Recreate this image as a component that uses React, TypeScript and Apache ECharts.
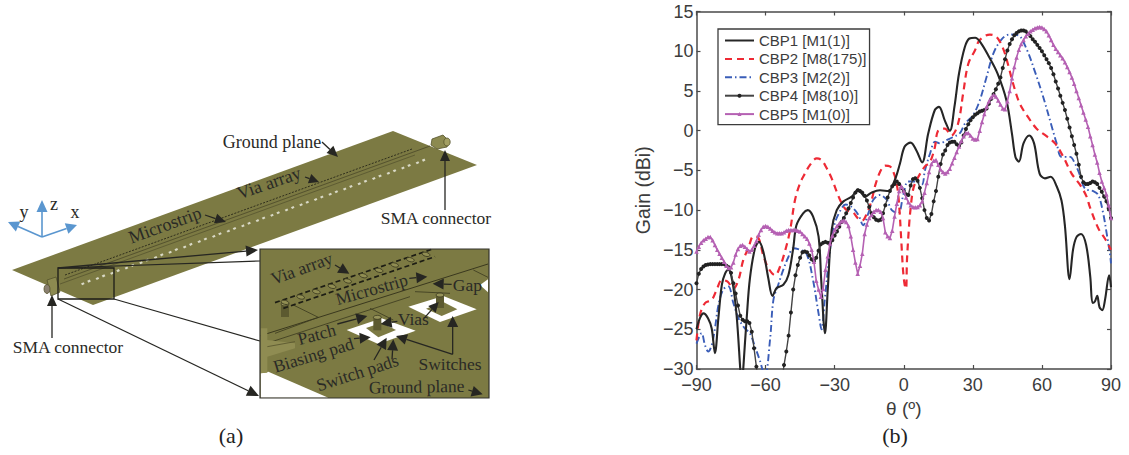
import React, { useEffect, useRef } from "react";
import * as echarts from "echarts";

const seriesNames = ["CBP1 [M1(1)]", "CBP2 [M8(175)]", "CBP3 [M2(2)]", "CBP4 [M8(10)]", "CBP5 [M1(0)]"];
const xTicks = [-90, -60, -30, 0, 30, 60, 90];
const yLabelMin = -30;
const yLabelMax = 15;

const cbp1: number[][] = [
  [-90, -25], [-88.5, -23.6], [-87, -23], [-85, -23.6], [-83.4, -24.9], [-82, -28], [-80.5, -23.6], [-79, -19.4],
  [-77.6, -18], [-76.2, -17.5], [-74.4, -19], [-72.6, -23.2], [-71, -30], [-70.3, -33], [-69.7, -30], [-68.2, -23.6],
  [-66.8, -18.6], [-64.6, -14.8], [-62.9, -14], [-61, -15.2], [-58.8, -18.6], [-57, -20.8], [-55.2, -19.8], [-52.3, -19.4],
  [-50.1, -18.2], [-48, -14.8], [-46.6, -11.9], [-43.7, -10.4], [-41.7, -10], [-39.4, -10.8], [-37, -13.3], [-35.8, -19],
  [-34.2, -25.5], [-33, -20], [-31.3, -12.5], [-29.1, -10], [-26.2, -8.9], [-22.6, -8.3], [-19.7, -7.4], [-16.8, -8.3],
  [-14, -7.8], [-10.3, -7.5], [-6.7, -7.6], [-4, -6.3], [-1.7, -4.2], [0.4, -2], [3, -1.5], [5.5, -2.5], [8, -4],
  [10.6, -0.4], [13.5, 2.6], [15.3, 3], [17.8, 1.3], [20, 0], [22, 3], [24, 7.2], [26.5, 10.5], [28.5, 11.6], [31, 11.7],
  [33.6, 11], [37, 9.3], [40.7, 7.2], [44.6, 3.8], [47, -0.4], [48.5, -3.3], [50, -3.9], [52, -1.6], [54.5, -0.6],
  [56.6, -1.6], [59, -5.4], [61.3, -6], [63.8, -5.8], [66.4, -7], [68.5, -8.8], [70, -12], [72, -18.7], [73.5, -15],
  [75, -13.4], [77, -13], [79.2, -14.4], [81, -18.4], [82, -21.7], [83, -21.5], [84, -20.8], [85, -22.2], [86.2, -22.6],
  [87.4, -21.3], [89.2, -18.2], [90, -19.7],
];

const cbp2: number[][] = [
  [-90, -26.4], [-88.5, -23.2], [-86.3, -21.7], [-83.4, -21.3], [-81.2, -20], [-79, -18.8], [-76.5, -19], [-74, -19.9],
  [-71.8, -18.8], [-69.7, -16.3], [-67.5, -14.8], [-65.3, -13.3], [-63.1, -13.5], [-61, -15.7], [-58.8, -17.3], [-55.9, -18.2],
  [-53.7, -17.1], [-51.6, -15.2], [-49.4, -12.6], [-47.2, -8.7], [-45, -6.6], [-42.9, -5.4], [-40.7, -4.3], [-37.8, -3.5],
  [-35.7, -3.7], [-33.5, -4.7], [-31.3, -6], [-29.1, -7.7], [-27, -9.1], [-24.8, -10], [-22, -10.3], [-20, -11], [-18, -11.3],
  [-16, -10.4], [-13.9, -8.7], [-12.5, -7], [-10.3, -5.2], [-8.1, -4.4], [-6, -4.5], [-4.5, -5.2], [-3.1, -6.6], [-2.1, -9],
  [-1, -14.2], [-0.3, -17.6], [0.4, -19.4], [1, -19.9], [1.4, -16.3], [2.3, -12], [2.9, -10], [4.15, -7.3], [6, -6], [9.2, -4.5],
  [11.3, -4], [13.5, -2.1], [14.9, 0], [17.8, 0.25], [20.7, -0.6], [23.6, 0.9], [25.8, 4.7], [28, 8.4], [30.9, 10.1], [33, 11.4],
  [37.4, 12.1], [40.3, 11.8], [43.2, 10.3], [45.4, 8.2], [47.5, 5.9], [50.4, 3.4], [54, 1.7], [57.7, 0.25], [62, -0.7],
  [65.7, -1.6], [69.3, -3.3], [72.9, -5.4], [76.5, -6.8], [79.4, -8.3], [80.8, -9.6], [84.5, -12.3], [87.4, -13.6], [90, -15],
];

const cbp3: number[][] = [
  [-90, -26.8], [-87.8, -25.5], [-86.3, -27], [-84.9, -27.8], [-83.4, -27], [-82, -24.9], [-80.5, -22], [-78.4, -20],
  [-76.2, -19.6], [-74, -21.7], [-71.8, -23.6], [-69, -24.9], [-66.8, -25.5], [-64.6, -27.2], [-62.4, -29], [-60.3, -31],
  [-58, -26.1], [-56.6, -21.3], [-54.5, -19.4], [-52.3, -17.5], [-50.1, -15.9], [-48, -14.8], [-45, -15], [-42.2, -15.5],
  [-39.4, -18.8], [-37, -23], [-35.7, -25], [-34.3, -21.3], [-32, -15], [-30.3, -12], [-27.8, -10.2], [-25.2, -9.3], [-22.6, -9.6],
  [-19.7, -10.6], [-17.6, -11.9], [-15.4, -10.4], [-13.2, -8.7], [-10.3, -8.1], [-7.4, -8.7], [-5.2, -10], [-2.4, -10.4],
  [-0.2, -8.1], [1.9, -6.4], [4.9, -6.4], [7.8, -6.8], [9.2, -5], [11.4, -2.9], [13.6, -1.4], [15.7, -1.6], [18.6, -1.2],
  [21.5, -0.8], [24.4, -0.3], [26.6, 0.9], [30, 1.9], [33, 3.8], [36, 6.8], [38.9, 9.7], [42.5, 11.5], [46, 12.1], [49.7, 12],
  [53.3, 10.3], [57, 7.4], [60.6, 4.2], [64.2, 0.6], [66.4, -1.6], [68.5, -3.3], [72.2, -3.3], [74.3, -4.1], [76.5, -5.6],
  [78.7, -7.3], [82.3, -7.6], [84.5, -8.1], [86.6, -10.4], [88.1, -12.9], [89.5, -15.4], [90, -16.7],
];

// CBP4 and CBP5 gains read at each degree from -90 to 90
const cbp4Gain: number[] = [
  -19.2, -18, -17.4, -17.1, -16.9, -16.85, -16.8, -16.8, -16.8, -16.8, -16.8, -16.8, -16.8, -17, -17.2, -17.9, -19.2, -20.5, -22, -23.3,
  -23.8, -24, -24, -24.2, -25.3, -27.4, -29.7, -32, -34, -36, -38, -39, -40, -39, -38, -36, -34, -31.8, -29.5, -27.8,
  -25.8, -22.9, -20, -18.2, -16.9, -16, -15.3, -15.2, -15.3, -15.7, -16.2, -16.4, -16, -15.1, -14.3, -14.1, -14, -14.1, -14.2, -13.8,
  -13.2, -12.7, -12.1, -11.5, -11, -10.4, -9.8, -9.1, -8.4, -7.8, -7.5, -7.6, -7.8, -8.2, -8.8, -9.6, -10.4, -10.9, -11.2, -11.3,
  -11.2, -10.4, -9.4, -8.4, -7.6, -7, -6.7, -6.4, -6.7, -7.2, -7.6, -8, -8.1, -6.9, -6.1, -6, -6.3, -7.2, -8.5, -10,
  -11, -11.3, -10.5, -8.9, -7.6, -5.8, -4.2, -3, -2.5, -1.8, -1.5, -1.4, -1.4, -1.7, -1.9, -1.5, -0.6, 0.2, 0.8, 1.3,
  1.7, 2, 2.2, 2.4, 2.5, 2.6, 2.8, 3.4, 4, 4.6, 5.2, 5.9, 6.7, 7.9, 9, 10.1, 10.9, 11.5, 12, 12.3,
  12.5, 12.6, 12.6, 12.5, 12.2, 11.9, 11.5, 11.2, 10.8, 10.4, 10, 9.5, 9, 8.5, 7.9, 7.1, 6.2, 5.3, 4.4, 3.5,
  2.6, 1.5, 0.4, -0.7, -1.8, -2.9, -4.3, -5.8, -6.5, -6.7, -6.7, -6.6, -6.4, -6.5, -6.7, -7.2, -7.7, -8.3, -8.9, -9.8,
  -11,
];

const cbp5Gain: number[] = [
  -15.2, -14.6, -14.1, -13.8, -13.6, -13.4, -13.4, -13.8, -14.4, -15, -15.5, -16, -16.5, -17, -17.3, -17.2, -16.6, -15.6, -14.9, -14.5,
  -14.4, -14.6, -14.9, -15.2, -15, -14.5, -13.9, -13.1, -12.5, -12.1, -12, -12.1, -12.3, -12.6, -12.8, -12.9, -12.9, -12.9, -12.8, -12.6,
  -12.5, -12.5, -12.5, -12.5, -12.6, -12.7, -13, -13.3, -13.6, -14.2, -15, -16.5, -18.9, -20, -20.9, -19.9, -17.5, -15.8, -14.2, -13.2,
  -12.5, -12, -11.7, -11.4, -11.3, -11.5, -12, -13.3, -15, -16.6, -18, -17, -15.5, -13, -11.8, -11, -10.6, -10.2, -10, -10,
  -10.2, -11, -12.8, -13.3, -13.5, -12.6, -10.8, -9.2, -7.6, -7, -7.6, -8.4, -9, -9.4, -9.6, -9.65, -9.6, -9.4, -8.9, -7.8,
  -6.6, -5.2, -4.2, -3.8, -3.7, -4.3, -4.9, -5.2, -5.4, -5.2, -4.8, -4.1, -3.4, -2.7, -2, -1.3, -0.7, -0.3, -0.3, -0.6,
  -1, -1.1, -1.05, 0, 1.1, 2.1, 3, 3.7, 4.2, 4.5, 4.3, 3.8, 3.3, 2.8, 2.7, 3.7, 5, 6.6, 8, 9.2,
  10.2, 10.9, 11.4, 11.9, 12.2, 12.5, 12.7, 12.9, 13, 13.05, 13, 12.8, 12.5, 12, 11.4, 10.8, 10.3, 9.9, 9.5, 9.1,
  8.6, 8, 7.4, 6.7, 5.9, 5, 4.1, 3.2, 2.3, 1.4, 0.5, -0.7, -1.8, -3, -4, -5.3, -6.4, -7.2, -8, -9.4,
  -11,
];

const OLIVE = "#7c7a43";
const INK = "#262622";
const SERIF = "'Liberation Serif', serif";
const SANS = "'Liberation Sans', Arial, sans-serif";
const deg = (d: number) => (d * Math.PI) / 180;

// inset drawing coordinates are measured on a 3x view with origin (250,240)
const ix = (x: number) => 250 + x / 3;
const iy = (y: number) => 240 + y / 3;
const ip = (pts: number[][]) => pts.map(([x, y]) => [ix(x), iy(y)]);

const line = (x1: number, y1: number, x2: number, y2: number, w = 1.2, color = INK, dash?: number[]) => ({
  type: "line",
  silent: true,
  shape: { x1, y1, x2, y2 },
  style: { stroke: color, lineWidth: w, lineDash: dash },
});

const poly = (points: number[][], fill: string, stroke?: string, lw = 0) => ({
  type: "polygon",
  silent: true,
  shape: { points },
  style: { fill, stroke, lineWidth: lw },
});

const arrow = (x1: number, y1: number, x2: number, y2: number, len = 11, half = 6, color = INK, w = 1.3) => {
  const a = Math.atan2(y2 - y1, x2 - x1);
  const bx = x2 - len * Math.cos(a);
  const by = y2 - len * Math.sin(a);
  const nx = -Math.sin(a) * half;
  const ny = Math.cos(a) * half;
  return [
    line(x1, y1, bx, by, w, color),
    poly([[x2, y2], [bx + nx, by + ny], [bx - nx, by - ny]], color),
  ];
};

const label = (text: string, x: number, y: number, rot = 0, size = 17.5, family = SERIF, color = "#2a2a26") => ({
  type: "text",
  silent: true,
  x,
  y,
  rotation: deg(rot),
  style: { text, x: 0, y: 0, fill: color, font: `${size}px ${family}`, align: "center", verticalAlign: "middle" },
});

const ell = (x: number, y: number, rx: number, ry: number, fill: string, stroke?: string, rot = 0) => ({
  type: "ellipse",
  silent: true,
  x,
  y,
  rotation: deg(rot),
  shape: { cx: 0, cy: 0, rx, ry },
  style: { fill, stroke, lineWidth: 0.8 },
});

const viaCylinder = (zx: number, zy: number) => [
  {
    type: "rect",
    silent: true,
    shape: { x: ix(zx) - 4, y: iy(zy), width: 8, height: 13 },
    style: { fill: "#5c5a30" },
  },
  ell(ix(zx), iy(zy), 4, 2, "#96935a", "#3b3a20"),
];

function buildDrawing(): any[] {
  const els: any[] = [];
  // board
  els.push(poly([[12, 270], [393, 131], [477, 165], [93, 305]], OLIVE));
  // slots along the board
  for (let i = 0; i < 24; i++) {
    const cx = 86 + i * 14.55;
    const cy = 282 - i * 5.26;
    els.push(poly([[cx - 5, cy + 1.5], [cx - 2.4, cy + 0.2], [cx - 1.4, cy + 2], [cx - 3.8, cy + 3.2]], "#d9d9c6"));
    els.push(poly([[cx + 1.2, cy - 1.2], [cx + 3.8, cy - 2.4], [cx + 4.8, cy - 0.6], [cx + 2.4, cy + 0.7]], "#d9d9c6"));
  }
  // microstrip and via rows
  els.push(line(65, 275, 412, 149, 1, "#2f2e1c", [2, 1.4]));
  els.push(line(64, 279, 430, 146, 0.8, "#4a4828"));
  els.push(line(60, 284, 415, 155, 0.6, "#4a4828"));
  // connectors
  els.push(poly([[432, 139], [443, 135], [449, 141], [447, 147], [437, 149], [431, 145]], "#8c8a50", "#55532c", 0.8));
  els.push(ell(447, 142, 3.2, 4, "#a39f63", "#55532c"));
  els.push(poly([[47, 280], [56, 277], [60, 292], [51, 296]], "#8c8a50", "#55532c", 0.8));
  els.push(ell(47, 289, 3, 4.5, "#8a8070", "#55532c"));
  // axes triad
  const blue = "#5a96cf";
  els.push(...arrow(42, 237, 8, 222, 11, 5.5, blue, 1.6));
  els.push(...arrow(42, 237, 42, 200, 12, 5.5, blue, 1.6));
  els.push(...arrow(42, 237, 77, 225, 11, 5.5, blue, 1.6));
  els.push(label("y", 24, 212, 0, 18));
  els.push(label("z", 54, 204, 0, 18));
  els.push(label("x", 75, 212, 0, 18));
  // labels on board
  els.push(label("Ground plane", 272, 142, 0, 18));
  els.push(...arrow(322, 142, 338, 157, 11, 5));
  els.push(label("Via array", 269, 183, 19, 18));
  els.push(...arrow(305, 177, 319, 182, 10, 5));
  els.push(label("Microstrip", 165, 225, 20, 18));
  els.push(...arrow(205, 215, 226, 222, 11, 5));
  els.push(label("SMA connector", 436, 218));
  els.push(...arrow(445, 210, 445, 150, 11, 5));
  els.push(label("SMA connector", 68, 347));
  els.push(...arrow(52, 338, 52, 295, 11, 5));
  // callout
  els.push({
    type: "rect",
    silent: true,
    shape: { x: 58, y: 268, width: 56, height: 31 },
    style: { fill: "none", stroke: "#1c1c18", lineWidth: 1.3 },
  });
  els.push(...arrow(58, 268, 258, 250, 12, 5.5));
  els.push(line(58, 268, 260, 261, 1.2));
  els.push(line(114, 299, 260, 341, 1.2));
  els.push(...arrow(58, 299, 259, 396, 12, 5.5));
  // inset
  els.push({
    type: "rect",
    silent: true,
    shape: { x: 260, y: 249, width: 229, height: 149 },
    style: { fill: OLIVE },
  });
  els.push(poly(ip([[32, 400], [55, 395], [235, 473], [32, 473]]), "#ffffff"));
  els.push(poly(ip([[690, 135], [714, 118], [714, 157]]), "#ffffff"));
  // inset patch outlines
  els.push(line(ix(32), iy(287), ix(714), iy(72), 1, "#3a381e"));
  els.push(line(ix(50), iy(310), ix(480), iy(170), 0.8, "#3a381e"));
  els.push(line(ix(75), iy(280), ix(205), iy(232), 0.8, "#3a381e"));
  els.push(line(ix(130), iy(195), ix(205), iy(232), 0.8, "#3a381e"));
  els.push(line(ix(360), iy(205), ix(430), iy(240), 0.8, "#3a381e"));
  els.push(line(ix(495), iy(155), ix(600), iy(160), 0.8, "#3a381e"));
  els.push(line(ix(670), iy(90), ix(714), iy(112), 0.8, "#3a381e"));
  // inset feed pads
  els.push(poly(ip([[32, 265], [52, 265], [52, 300], [135, 310], [135, 325], [52, 350], [52, 398], [32, 400]]), "#8f8c52"));
  els.push(line(ix(52), iy(320), ix(135), iy(305), 0.8, "#55532c"));
  // white pads
  els.push(poly(ip([[290, 270], [395, 235], [497, 272], [385, 312]]), "#ffffff"));
  els.push(poly(ip([[348, 264], [395, 248], [438, 270], [385, 292]]), OLIVE));
  els.push(poly(ip([[475, 200], [580, 168], [680, 208], [570, 246]]), "#ffffff"));
  els.push(poly(ip([[528, 206], [580, 186], [622, 208], [575, 228]]), OLIVE));
  // inset vias
  els.push(...viaCylinder(105, 192));
  els.push(...viaCylinder(382, 232));
  els.push(...viaCylinder(570, 165));
  // via array
  els.push(line(ix(75), iy(188), ix(545), iy(28), 1.7, "#1d1d14", [5, 3]));
  els.push(line(ix(100), iy(205), ix(555), iy(50), 1.7, "#1d1d14", [5, 3]));
  for (let i = 0; i < 10; i++) {
    els.push(ell(ix(105 + i * 47), iy(187 - i * 16), 4, 2, "#908d52", "#3b3a20", -15));
  }
  // inset labels and arrows
  els.push(label("Via array", ix(155), iy(85), 20));
  els.push(...arrow(ix(255), iy(75), ix(298), iy(101), 11, 5.5));
  els.push(label("Microstrip", ix(365), iy(148), 16));
  els.push(...arrow(ix(478), iy(115), ix(532), iy(110), 11, 5.5));
  els.push(label("Gap", ix(652), iy(135), 0));
  els.push(...arrow(ix(605), iy(133), ix(548), iy(131), 11, 5.5));
  els.push(label("Patch", ix(200), iy(283), 15));
  els.push(...arrow(ix(262), iy(252), ix(352), iy(228), 11, 5.5));
  els.push(label("Vias", ix(490), iy(238), 0));
  els.push(...arrow(ix(442), iy(244), ix(392), iy(252), 11, 5.5));
  els.push(...arrow(ix(522), iy(235), ix(566), iy(186), 10, 5));
  els.push(label("Biasing pad", ix(190), iy(345), 17));
  els.push(...arrow(ix(312), iy(296), ix(362), iy(292), 11, 5.5));
  els.push(label("Switch pads", ix(322), iy(398), 18));
  els.push(...arrow(ix(372), iy(360), ix(410), iy(293), 11, 5.5));
  els.push(...arrow(ix(426), iy(358), ix(430), iy(298), 11, 5.5));
  els.push(label("Switches", ix(600), iy(372), 0));
  els.push(...arrow(ix(608), iy(343), ix(438), iy(288), 11, 5.5));
  els.push(...arrow(ix(608), iy(343), ix(608), iy(228), 11, 5.5));
  els.push(label("Ground plane", ix(500), iy(440), 1));
  els.push(...arrow(ix(655), iy(450), ix(698), iy(463), 11, 5.5));
  // inset frame
  els.push({
    type: "rect",
    silent: true,
    shape: { x: 260, y: 249, width: 229, height: 149 },
    style: { fill: "none", stroke: "#33332c", lineWidth: 1.2 },
  });
  // captions
  els.push(label("(a)", 231, 435, 0, 22, SERIF, "#222"));
  els.push(label("(b)", 895, 435, 0, 22, SERIF, "#222"));
  return els;
}

export default function App() {
  const ref = useRef<HTMLDivElement>(null);
  useEffect(() => {
    if (!ref.current) return;
    document.body.style.margin = "0";
    const chart = echarts.init(ref.current, undefined, { renderer: "svg", width: 1129, height: 455 });
    const axisColor = "#4a4a4a";
    const textColor = "#3c3c3c";
    const hideIcon = { opacity: 0 };
    chart.setOption({
      animation: false,
      backgroundColor: "#ffffff",
      textStyle: { fontFamily: SANS },
      legend: {
        left: 718,
        top: 29,
        orient: "vertical",
        align: "left",
        padding: [4, 3, 3, 6],
        itemWidth: 29,
        itemHeight: 5,
        itemGap: 3.4,
        backgroundColor: "#ffffff",
        borderColor: "#3c3c3c",
        borderWidth: 1.3,
        borderRadius: 0,
        textStyle: { fontFamily: SANS, fontSize: 15, color: textColor, lineHeight: 14 },
        data: [
          { name: seriesNames[0], itemStyle: hideIcon },
          { name: seriesNames[1], itemStyle: hideIcon },
          { name: seriesNames[2], itemStyle: hideIcon },
          { name: seriesNames[3] },
          { name: seriesNames[4] },
        ],
      },
      grid: { left: 696.5, top: 11.5, width: 414.5, height: 357.5, containLabel: false },
      xAxis: [
        {
          type: "value",
          min: -90,
          max: 90,
          interval: 30,
          position: "bottom",
          name: "θ (º)",
          nameLocation: "middle",
          nameGap: 24,
          nameTextStyle: { fontFamily: SANS, fontSize: 19, color: textColor },
          axisLine: { show: true, onZero: false, lineStyle: { color: axisColor, width: 1.5 } },
          axisTick: { show: true, inside: true, length: 4, lineStyle: { color: axisColor, width: 1.2 } },
          axisLabel: {
            show: true,
            margin: 7,
            fontFamily: SANS,
            fontSize: 18,
            color: textColor,
            formatter: (v: number) => String(v).replace("-", "\u2212"),
            customValues: xTicks,
          },
          splitLine: { show: false },
        },
        {
          type: "value",
          min: -90,
          max: 90,
          interval: 30,
          position: "top",
          axisLine: { show: true, onZero: false, lineStyle: { color: axisColor, width: 1.5 } },
          axisTick: { show: true, inside: true, length: 4, lineStyle: { color: axisColor, width: 1.2 } },
          axisLabel: { show: false },
          splitLine: { show: false },
        },
      ],
      yAxis: [
        {
          type: "value",
          min: yLabelMin,
          max: yLabelMax,
          interval: 5,
          position: "left",
          name: "Gain (dBi)",
          nameLocation: "middle",
          nameGap: 44,
          nameRotate: 90,
          nameTextStyle: { fontFamily: SANS, fontSize: 19.5, color: textColor },
          axisLine: { show: true, onZero: false, lineStyle: { color: axisColor, width: 1.5 } },
          axisTick: { show: true, inside: true, length: 4, lineStyle: { color: axisColor, width: 1.2 } },
          axisLabel: {
            show: true,
            margin: 3,
            fontFamily: SANS,
            fontSize: 18,
            color: textColor,
            formatter: (v: number) => String(v).replace("-", "\u2212"),
          },
          splitLine: { show: false },
        },
        {
          type: "value",
          min: yLabelMin,
          max: yLabelMax,
          interval: 5,
          position: "right",
          axisLine: { show: true, onZero: false, lineStyle: { color: axisColor, width: 1.5 } },
          axisTick: { show: true, inside: true, length: 4, lineStyle: { color: axisColor, width: 1.2 } },
          axisLabel: { show: false },
          splitLine: { show: false },
        },
      ],
      series: [
        {
          name: seriesNames[0],
          type: "line",
          data: cbp1,
          smooth: 0.35,
          symbol: "none",
          clip: true,
          z: 5,
          color: "#262626",
          lineStyle: { color: "#262626", width: 2.1 },
        },
        {
          name: seriesNames[1],
          type: "line",
          data: cbp2,
          smooth: 0.35,
          symbol: "none",
          clip: true,
          z: 3,
          color: "#ee2a35",
          lineStyle: { color: "#ee2a35", width: 2.2, type: [7, 5] },
        },
        {
          name: seriesNames[2],
          type: "line",
          data: cbp3,
          smooth: 0.35,
          symbol: "none",
          clip: true,
          z: 2,
          color: "#3a5db8",
          lineStyle: { color: "#3a5db8", width: 1.9, type: [7, 3, 1.5, 3] },
        },
        {
          name: seriesNames[3],
          type: "line",
          data: cbp4Gain.map((g, i) => [-90 + i, g]),
          symbol: "circle",
          symbolSize: 4,
          clip: true,
          z: 6,
          color: "#222222",
          itemStyle: { color: "#222222" },
          lineStyle: { color: "#444444", width: 1.4 },
        },
        {
          name: seriesNames[4],
          type: "line",
          data: cbp5Gain.map((g, i) => [-90 + i, g]),
          symbol: "triangle",
          symbolSize: 4.5,
          clip: true,
          z: 7,
          color: "#b561b3",
          itemStyle: { color: "#b561b3" },
          lineStyle: { color: "#b561b3", width: 1.6 },
        },
      ],
      graphic: { elements: buildDrawing() },
    });
    return () => chart.dispose();
  }, []);
  return <div ref={ref} style={{ position: "fixed", left: 0, top: 0, width: 1129, height: 455 }} />;
}
